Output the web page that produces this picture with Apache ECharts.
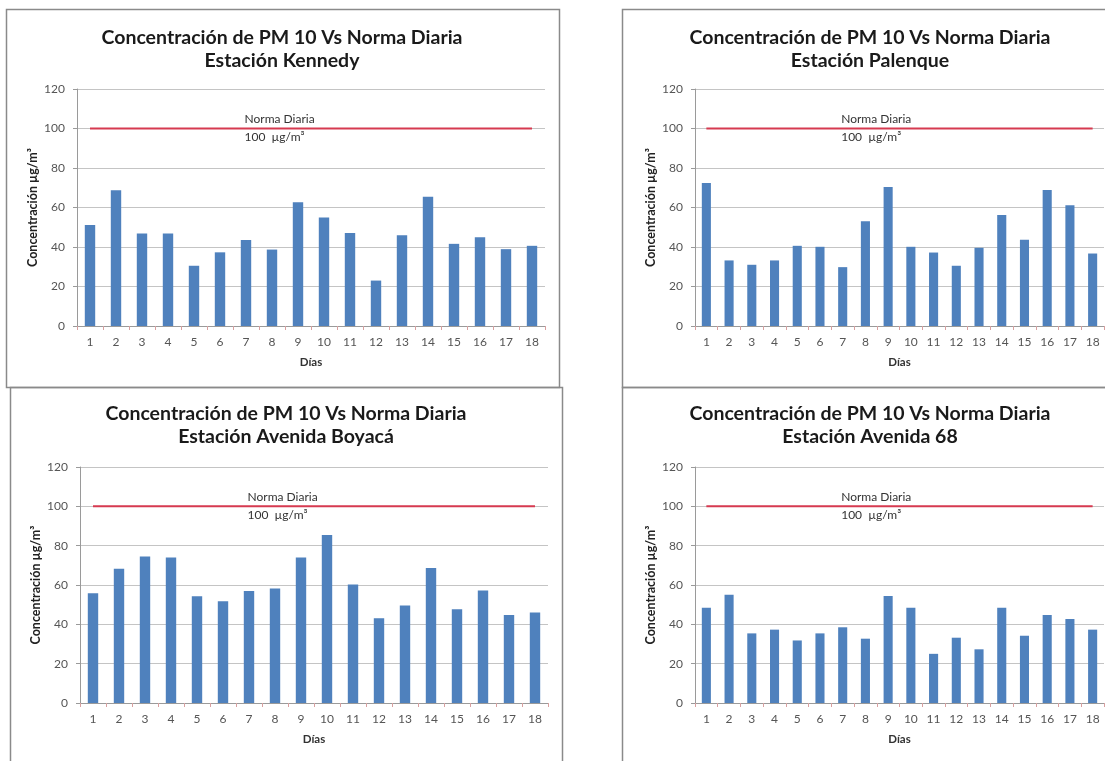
<!DOCTYPE html>
<html>
<head>
<meta charset="utf-8">
<script src="https://cdn.jsdelivr.net/npm/echarts@6/dist/echarts.min.js"></script>
<style>
html,body{margin:0;padding:0;background:#fff;}
#chart{width:1105px;height:761px;}
</style>
</head>
<body>
<div id="chart"></div>
<script>
// ---- data ----
const DAYS = ['1','2','3','4','5','6','7','8','9','10','11','12','13','14','15','16','17','18'];
const KENNEDY = [51.1, 68.7, 46.8, 46.8, 30.5, 37.3, 43.6, 38.7, 62.6, 55.0, 47.1, 23.0, 46.0, 65.5, 41.6, 44.9, 38.9, 40.6];
const PALENQUE = [72.4, 33.2, 31.0, 33.2, 40.6, 40.1, 29.8, 53.1, 70.4, 40.1, 37.2, 30.5, 39.6, 56.2, 43.7, 68.9, 61.1, 36.7];
const BOYACA = [55.8, 68.2, 74.5, 74.0, 54.3, 51.8, 56.9, 58.2, 74.0, 85.4, 60.3, 43.1, 49.6, 68.7, 47.7, 57.2, 44.8, 46.0];
const AV68 = [48.4, 55.0, 35.4, 37.3, 31.8, 35.4, 38.5, 32.7, 54.4, 48.4, 25.0, 33.2, 27.3, 48.4, 34.2, 44.7, 42.7, 37.3];
const NORMA = [100,100,100,100,100,100,100,100,100,100,100,100,100,100,100,100,100,100];
const TITLE_MAIN = 'Concentración de PM 10 Vs Norma Diaria';
const STATIONS = ['Estación Kennedy', 'Estación Palenque', 'Estación Avenida Boyacá', 'Estación Avenida 68'];
const SERIES_DATA = [KENNEDY, PALENQUE, BOYACA, AV68];
const Y_NAME = 'Concentración µg/m³';
const X_NAME = 'Días';
const NORMA_LABEL_1 = 'Norma Diaria';
const NORMA_LABEL_2 = '100  µg/m³';
const Y_MIN = 0, Y_MAX = 120, Y_STEP = 20;

// ---- layout ----
const FONT = 'Lato, "Open Sans", sans-serif';
const grids = [
  {left: 77, top: 89, width: 468, height: 237},
  {left: 695, top: 89, width: 409, height: 237},
  {left: 80, top: 467, width: 468, height: 236},
  {left: 695, top: 467, width: 409, height: 236}
];
const titlePos = [
  {cx: 282, top: 26},
  {cx: 870, top: 26},
  {cx: 286, top: 402},
  {cx: 870, top: 402}
];

const chart = echarts.init(document.getElementById('chart'), null, {renderer: 'canvas'});

const option = {
  backgroundColor: '#ffffff',
  animation: false,
  graphic: [
    {type: 'rect', shape: {x: 6.5, y: 9.5, width: 553, height: 378}, style: {fill: 'none', stroke: '#8a8a8a', lineWidth: 1.5}, z: 0},
    {type: 'rect', shape: {x: 622.5, y: 9.5, width: 500, height: 378}, style: {fill: 'none', stroke: '#8a8a8a', lineWidth: 1.5}, z: 0},
    {type: 'rect', shape: {x: 10.5, y: 387.5, width: 552, height: 400}, style: {fill: 'none', stroke: '#8a8a8a', lineWidth: 1.5}, z: 0},
    {type: 'rect', shape: {x: 622.5, y: 387.5, width: 500, height: 400}, style: {fill: 'none', stroke: '#8a8a8a', lineWidth: 1.5}, z: 0}
  ],
  title: STATIONS.map((s, i) => ({
    text: TITLE_MAIN + '\n' + s,
    left: titlePos[i].cx,
    top: titlePos[i].top,
    textAlign: 'center',
    padding: 0,
    textStyle: {fontFamily: FONT, fontWeight: 'bold', fontSize: 19.5, color: '#1a1a1a', lineHeight: 23}
  })),
  grid: grids,
  xAxis: grids.map((g, i) => ({
    type: 'category',
    gridIndex: i,
    data: DAYS,
    boundaryGap: true,
    name: X_NAME,
    nameLocation: 'middle',
    nameGap: 30,
    nameTextStyle: {fontFamily: FONT, fontWeight: 'bold', fontSize: 11.5, color: '#333'},
    axisLine: {show: true, lineStyle: {color: '#9a9a9a', width: 1}},
    axisTick: {show: true, length: 4, lineStyle: {color: '#d8a0a0'}},
    axisLabel: {interval: 0, fontFamily: FONT, fontSize: 12, color: '#555', margin: 10},
    splitLine: {show: false}
  })),
  yAxis: grids.map((g, i) => ({
    type: 'value',
    gridIndex: i,
    min: Y_MIN,
    max: Y_MAX,
    interval: Y_STEP,
    name: Y_NAME,
    nameLocation: 'middle',
    nameRotate: 90,
    nameGap: 38,
    nameTextStyle: {fontFamily: FONT, fontWeight: 'bold', fontSize: 12.5, color: '#222'},
    axisLine: {show: true, lineStyle: {color: '#9a9a9a', width: 1}},
    axisTick: {show: true, length: 4, lineStyle: {color: '#9a9a9a'}},
    axisLabel: {fontFamily: FONT, fontSize: 12, color: '#555', margin: 12},
    splitLine: {show: true, lineStyle: {color: '#c4c4c4', width: 1}}
  })),
  series: []
};

SERIES_DATA.forEach((arr, i) => {
  option.series.push({
    type: 'bar',
    xAxisIndex: i,
    yAxisIndex: i,
    data: arr,
    barWidth: '40%',
    itemStyle: {color: '#4f81bd'},
    z: 2
  });
  option.series.push({
    type: 'line',
    xAxisIndex: i,
    yAxisIndex: i,
    data: NORMA,
    symbol: 'none',
    lineStyle: {color: '#d63a50', width: 2},
    z: 3,
    markPoint: {
      symbol: 'circle',
      symbolSize: 1,
      itemStyle: {color: 'rgba(0,0,0,0)'},
      label: {show: true, position: 'right', distance: 0, fontFamily: FONT, color: '#333'},
      data: [
        {coord: [6, 100], label: {formatter: NORMA_LABEL_1, offset: [-2, -9], fontSize: 12}},
        {coord: [6, 100], label: {formatter: NORMA_LABEL_2, offset: [-2, 9], fontSize: 12}}
      ]
    }
  });
});

chart.setOption(option);
</script>
</body>
</html>
